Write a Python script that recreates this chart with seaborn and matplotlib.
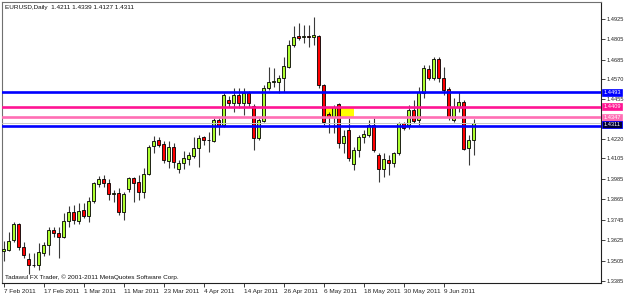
import numpy as np
import pandas as pd
import matplotlib
matplotlib.use("Agg")
import matplotlib.pyplot as plt
import matplotlib.transforms as mtransforms
from matplotlib.patches import Rectangle
import seaborn as sns

# ---------------- data ----------------
symbol = "EURUSD,Daily"
dates = pd.bdate_range("2011-02-07", "2011-06-17")

opens = [1.3564, 1.3567, 1.3626, 1.3720, 1.3584, 1.3514, 1.3478, 1.3478, 1.3552, 1.3596,
         1.3684, 1.3667, 1.3643, 1.3737, 1.3790, 1.3739, 1.3802, 1.3767, 1.3855, 1.3955,
         1.3987, 1.3961, 1.3896, 1.3902, 1.3790, 1.3925, 1.3990, 1.3967, 1.3908, 1.4013,
         1.4178, 1.4213, 1.4190, 1.4090, 1.4172, 1.4043, 1.4078, 1.4102, 1.4119, 1.4166,
         1.4231, 1.4213, 1.4207, 1.4331, 1.4302, 1.4449, 1.4431, 1.4478, 1.4431, 1.4490,
         1.4413, 1.4225, 1.4325, 1.4519, 1.4552, 1.4555, 1.4578, 1.4643, 1.4772, 1.4825,
         1.4822, 1.4825, 1.4822, 1.4827, 1.4537, 1.4365, 1.4350, 1.4423, 1.4194, 1.4272,
         1.4071, 1.4155, 1.4233, 1.4243, 1.4302, 1.4125, 1.4043, 1.4096, 1.4078, 1.4137,
         1.4314, 1.4302, 1.4390, 1.4331, 1.4490, 1.4631, 1.4578, 1.4690, 1.4578, 1.4513,
         1.4331, 1.4408, 1.4437, 1.4166, 1.4211]
highs = [1.3620, 1.3673, 1.3731, 1.3725, 1.3614, 1.3549, 1.3549, 1.3608, 1.3616, 1.3702,
         1.3702, 1.3702, 1.3784, 1.3825, 1.3831, 1.3843, 1.3843, 1.3878, 1.3967, 1.4002,
         1.4008, 1.3984, 1.3920, 1.3931, 1.3908, 1.3996, 1.3996, 1.4008, 1.4049, 1.4184,
         1.4237, 1.4231, 1.4207, 1.4207, 1.4196, 1.4096, 1.4149, 1.4143, 1.4231, 1.4243,
         1.4235, 1.4261, 1.4343, 1.4343, 1.4490, 1.4472, 1.4519, 1.4519, 1.4519, 1.4502,
         1.4425, 1.4343, 1.4537, 1.4643, 1.4637, 1.4596, 1.4702, 1.4801, 1.4884, 1.4901,
         1.4890, 1.4890, 1.4937, 1.4831, 1.4543, 1.4380, 1.4419, 1.4429, 1.4272, 1.4341,
         1.4174, 1.4243, 1.4272, 1.4331, 1.4343, 1.4137, 1.4137, 1.4125, 1.4143, 1.4319,
         1.4319, 1.4419, 1.4449, 1.4525, 1.4654, 1.4654, 1.4702, 1.4702, 1.4643, 1.4525,
         1.4461, 1.4496, 1.4449, 1.4243, 1.4339]
lows = [1.3502, 1.3561, 1.3614, 1.3567, 1.3520, 1.3426, 1.3467, 1.3449, 1.3531, 1.3537,
        1.3643, 1.3520, 1.3640, 1.3702, 1.3720, 1.3720, 1.3755, 1.3731, 1.3843, 1.3937,
        1.3937, 1.3861, 1.3849, 1.3773, 1.3743, 1.3908, 1.3849, 1.3861, 1.3872, 1.4008,
        1.4137, 1.4172, 1.4078, 1.4049, 1.4049, 1.4019, 1.4043, 1.4066, 1.4108, 1.4055,
        1.4184, 1.4143, 1.4202, 1.4243, 1.4290, 1.4408, 1.4378, 1.4402, 1.4360, 1.4408,
        1.4155, 1.4213, 1.4319, 1.4508, 1.4525, 1.4490, 1.4496, 1.4637, 1.4760, 1.4801,
        1.4784, 1.4760, 1.4772, 1.4519, 1.4302, 1.4253, 1.4253, 1.4165, 1.4135, 1.4088,
        1.4037, 1.4111, 1.4196, 1.4231, 1.4143, 1.3967, 1.3996, 1.4008, 1.4055, 1.4125,
        1.4272, 1.4278, 1.4314, 1.4302, 1.4461, 1.4566, 1.4566, 1.4555, 1.4478, 1.4331,
        1.4319, 1.4378, 1.4155, 1.4066, 1.4127]
closes = [1.3570, 1.3620, 1.3720, 1.3584, 1.3537, 1.3478, 1.3476, 1.3555, 1.3596, 1.3684,
          1.3667, 1.3643, 1.3737, 1.3790, 1.3743, 1.3798, 1.3768, 1.3855, 1.3961, 1.3984,
          1.3962, 1.3896, 1.3902, 1.3790, 1.3896, 1.3990, 1.3961, 1.3908, 1.4013, 1.4172,
          1.4207, 1.4184, 1.4096, 1.4172, 1.4084, 1.4078, 1.4108, 1.4125, 1.4166, 1.4225,
          1.4213, 1.4211, 1.4331, 1.4296, 1.4478, 1.4431, 1.4478, 1.4431, 1.4490, 1.4431,
          1.4225, 1.4331, 1.4519, 1.4555, 1.4560, 1.4578, 1.4649, 1.4772, 1.4819, 1.4813,
          1.4825, 1.4822, 1.4831, 1.4537, 1.4319, 1.4350, 1.4409, 1.4194, 1.4237, 1.4109,
          1.4155, 1.4233, 1.4247, 1.4302, 1.4155, 1.4043, 1.4102, 1.4078, 1.4137, 1.4314,
          1.4284, 1.4390, 1.4325, 1.4496, 1.4637, 1.4578, 1.4690, 1.4578, 1.4508, 1.4349,
          1.4408, 1.4437, 1.4161, 1.4213, 1.4311]

price_ticks = [1.4925, 1.4805, 1.4685, 1.4570, 1.4455, 1.4220, 1.4105,
               1.3985, 1.3865, 1.3745, 1.3625, 1.3505, 1.3385]
level_prices = [1.4493, 1.4409, 1.4347, 1.4298]
level_labels = ["1.4493", "1.4409", "1.4347", None]
level_colors = ["#0000ff", "#ff1493", "#ff6eb4", "#0000ff"]
bid_price = 1.4311
zone_start, zone_end = "2011-05-06", "2011-05-16"
zone_low, zone_high = 1.4347, 1.4409
copyright_text = "Tadawul FX Trader, \u00a9 2001-2011 MetaQuotes Software Corp."

# ---------------- frame ----------------
df = pd.DataFrame({"date": dates, "open": opens, "high": highs,
                   "low": lows, "close": closes})
df["idx"] = np.arange(len(df))
up = df[df.close >= df.open]
dn = df[df.close < df.open]

sns.set_theme(style="white")
plt.rcParams["font.family"] = ["Liberation Sans", "DejaVu Sans"]
FS = 4.6
FSY = 4.1

fig = plt.figure(figsize=(6.25, 2.94), dpi=100)
fig.patch.set_facecolor("white")
ax = fig.add_axes([2 / 625, 11 / 294, 599 / 625, 281 / 294])
ax.set_facecolor("white")

# background zone
i0 = dates.get_loc(pd.Timestamp(zone_start))
i1 = dates.get_loc(pd.Timestamp(zone_end))
ax.add_patch(Rectangle((i0, zone_low), i1 - i0, zone_high - zone_low,
                       facecolor="#ffff00", edgecolor="none", zorder=0.5))

# wicks and bodies
ax.vlines(df.idx, df.low, df.high, color="#3a3a3a", linewidth=0.8, zorder=2)
ax.bar(up.idx, up.close - up.open, bottom=up.open, width=0.62,
       color="#adff2f", edgecolor="black", linewidth=0.6, zorder=3)
ax.bar(dn.idx, dn.close - dn.open, bottom=dn.open, width=0.62,
       color="#ff0000", edgecolor="black", linewidth=0.6, zorder=3)

# horizontal levels
ax.axhline(bid_price, color="#c8c8c8", linewidth=0.7, zorder=3.5)
for p, c in zip(level_prices, level_colors):
    ax.axhline(p, color=c, linewidth=1.9, zorder=4)

ax.set_xlim(-0.3, 119.5)
ax.set_ylim(1.3373, 1.5025)

# right price axis
ax.yaxis.tick_right()
ax.set_yticks(price_ticks)
ax.set_yticklabels([f"{t:.4f}" for t in price_ticks])
ax.tick_params(axis="y", right=True, left=False, length=3, width=0.6,
               pad=1.0, labelsize=FSY, colors="#222222")

# bottom date axis
tick_idx = list(range(0, len(df), 8))
ax.set_xticks(tick_idx)
ax.set_xticklabels([f"{dates[i].day} {dates[i]:%b %Y}" for i in tick_idx])
for lab in ax.get_xticklabels():
    lab.set_horizontalalignment("left")
ax.tick_params(axis="x", bottom=True, length=3, width=0.6, pad=1.5,
               labelsize=FS, colors="#222222")

for s in ["left", "top"]:
    ax.spines[s].set_color("#707070")
    ax.spines[s].set_linewidth(0.8)
for s in ["right", "bottom"]:
    ax.spines[s].set_color("#202020")
    ax.spines[s].set_linewidth(0.8)

# price label boxes on the right
trans = mtransforms.blended_transform_factory(ax.transAxes, ax.transData)
box_specs = [(p, l, c) for p, l, c in zip(level_prices, level_labels, level_colors) if l]
for p, l, c in box_specs:
    ax.text(1.004, p, l, transform=trans, ha="left", va="center", fontsize=FSY,
            color="white", clip_on=False, zorder=10,
            bbox=dict(boxstyle="square,pad=0.2", fc=c, ec=c, lw=0.5))
ax.text(1.004, bid_price - 0.0008, f"{bid_price:.4f}", transform=trans, ha="left",
        va="center", fontsize=FSY, color="white", clip_on=False, zorder=10,
        bbox=dict(boxstyle="square,pad=0.2", fc="#000033", ec="#0000ff", lw=0.6))

# header and footer texts
last = df.iloc[-1]
title = f"{symbol}  {last.open:.4f} {last.high:.4f} {last.low:.4f} {last.close:.4f}"
fig.text(5 / 625, 1 - 7 / 294, title, fontsize=FS, va="center", ha="left", color="#111111")
fig.text(5 / 625, 1 - 277 / 294, copyright_text, fontsize=FS, va="center",
         ha="left", color="#111111")

fig.savefig("out.png", dpi=100, facecolor="white")
